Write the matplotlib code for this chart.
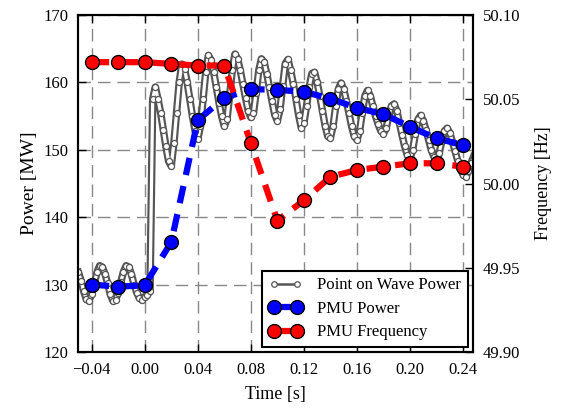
import numpy as np
import matplotlib
matplotlib.use('Agg')
import matplotlib.pyplot as plt
from matplotlib.lines import Line2D
from matplotlib.ticker import FuncFormatter, FormatStrFormatter

plt.rcParams['font.family'] = ['Liberation Serif', 'DejaVu Serif']

# point on wave power, 2 ms samples from -0.050 s to 0.248 s
pow_t = np.linspace(-0.050, 0.248, 150)
pow_p = [
    131.8, 130.6, 129.0, 127.8, 127.6, 128.6, 130.2, 131.8, 132.8, 132.6,
    131.6, 130.2, 128.6, 127.6, 127.7, 128.8, 130.4, 131.9, 132.8, 132.6,
    131.5, 130.0, 128.8, 128.0, 127.7, 128.2, 128.5, 129.0, 157.5, 159.3,
    157.5, 155.5, 153.0, 150.5, 148.3, 147.6, 151.0, 155.5, 160.0, 162.7,
    162.0, 160.0, 157.5, 155.0, 152.8, 151.6, 153.5, 157.5, 161.5, 164.0,
    163.3, 161.5, 159.3, 157.0, 155.0, 153.5, 154.5, 158.0, 161.8, 164.2,
    163.5, 161.8, 159.8, 157.7, 155.8, 154.8, 155.5, 158.5, 161.8, 163.5,
    163.0, 161.3, 159.3, 157.2, 155.2, 154.3, 156.0, 159.5, 162.8, 163.4,
    161.8, 159.8, 157.6, 155.2, 153.3, 154.0, 156.5, 159.3, 161.3, 161.5,
    160.0, 158.0, 155.8, 153.6, 152.0, 151.8, 153.5, 156.5, 159.0, 159.9,
    159.0, 157.3, 155.4, 153.5, 152.0, 151.5, 152.8, 155.5, 158.0, 158.8,
    158.0, 156.5, 155.0, 153.8, 152.8, 152.4, 153.2, 155.0, 156.5, 156.8,
    155.8, 154.0, 152.2, 150.5, 149.2, 148.7, 150.0, 152.3, 154.5, 155.1,
    154.3, 153.0, 151.5, 150.0, 149.0, 148.5, 149.5, 151.3, 152.8, 153.2,
    152.5, 151.2, 149.8, 148.4, 147.2, 146.3, 146.0, 146.8, 148.0, 149.0,
]

# PMU reports every 20 ms
pmu_t = [-0.04, -0.02, 0.00, 0.02, 0.04, 0.06, 0.08, 0.10,
         0.12, 0.14, 0.16, 0.18, 0.20, 0.22, 0.24]
pmu_p = [130.0, 129.7, 129.9, 136.3, 154.4, 157.7, 159.0, 158.9,
         158.6, 157.6, 156.2, 155.3, 153.4, 151.7, 150.7]
pmu_f = [50.072, 50.072, 50.072, 50.071, 50.070, 50.070, 50.024, 49.978,
         49.990, 50.004, 50.008, 50.010, 50.012, 50.012, 50.010]

xticks = [-0.04, 0.00, 0.04, 0.08, 0.12, 0.16, 0.20, 0.24]

fig = plt.figure(figsize=(5.66, 4.12), dpi=100)
ax = fig.add_axes([78/566, 60/412, 395/566, 337/412])

gray = '#555555'
dash = (0, (2.8, 1.8))
# dense sampled trace: drawn as a hollow gray band with small open circles
ax.plot(pow_t, pow_p, color=gray, lw=5.4, solid_joinstyle='round', zorder=3)
ax.plot(pow_t, pow_p, color='white', lw=2.3, solid_joinstyle='round', zorder=3)
ax.plot(pow_t, pow_p, 'o', ms=4.4, mfc='white', mec=gray, mew=0.9, zorder=3)
ax.plot(pmu_t, pmu_p, color='blue', ls=dash, lw=4.5, marker='o', ms=10,
        mfc='blue', mec='black', mew=1, zorder=4)

ax2 = ax.twinx()
ax2.plot(pmu_t, pmu_f, color='red', ls=dash, lw=4.5, marker='o', ms=10,
         mfc='red', mec='black', mew=1)

ax.set_xlim(-0.0503, 0.2475)
ax.set_ylim(120, 170)
ax2.set_ylim(49.90, 50.10)
ax.set_xticks(xticks)
ax.set_yticks([120, 130, 140, 150, 160, 170])
ax2.set_yticks([49.90, 49.95, 50.00, 50.05, 50.10])
ax.xaxis.set_major_formatter(FuncFormatter(lambda v, p: ('%.2f' % v).replace('-', '\u2212')))
ax2.yaxis.set_major_formatter(FormatStrFormatter('%.2f'))

ax.grid(True, color='#888888', lw=1, ls=(0, (9, 5)))
ax.tick_params(direction='in', length=6, width=1, labelsize=12, pad=7, top=True)
ax.tick_params(axis='y', right=False)
ax2.tick_params(direction='in', length=6, width=1, labelsize=12, pad=7)
for a in (ax, ax2):
    for s in a.spines.values():
        s.set_linewidth(1.5)

ax.set_xlabel('Time [s]', fontsize=13, labelpad=6)
ax.set_ylabel('Power [MW]', fontsize=14, labelpad=4)
ax2.set_ylabel('Frequency [Hz]', fontsize=13, labelpad=11)

handles = [
    Line2D([], [], color=gray, lw=1.8, marker='o', ms=4.0, mfc='white', mec=gray, mew=0.9),
    Line2D([], [], color='blue', lw=4.5, marker='o', ms=10, mfc='blue', mec='black', mew=1),
    Line2D([], [], color='red', lw=4.5, marker='o', ms=10, mfc='red', mec='black', mew=1),
]
labels = ['Point on Wave Power', 'PMU Power', 'PMU Frequency']
leg = ax2.legend(handles, labels, loc='lower right', fontsize=12, numpoints=2,
                 fancybox=False, framealpha=1, edgecolor='black',
                 borderaxespad=0.3, handlelength=2.0, handletextpad=0.9,
                 borderpad=0.4, labelspacing=0.45)
leg.get_frame().set_linewidth(1.5)

fig.savefig('out.png', dpi=100)
